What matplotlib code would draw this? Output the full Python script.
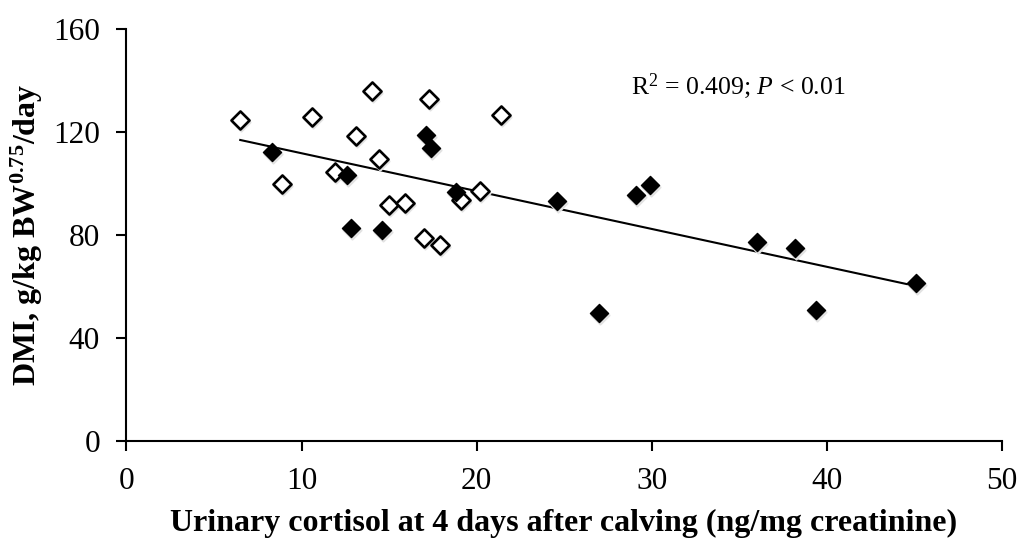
import matplotlib
matplotlib.use("Agg")
import matplotlib.pyplot as plt
import matplotlib.transforms as mtransforms
import numpy as np

# open diamonds
open_x = [6.5, 10.6, 14.0, 17.3, 21.4, 13.1, 14.4, 11.9, 8.9, 20.2, 19.1, 15.0, 15.9, 17.0, 17.9]
open_y = [124.6, 125.9, 135.9, 133.0, 126.7, 118.4, 109.6, 104.6, 99.8, 97.2, 93.7, 91.7, 92.6, 79.0, 76.0]

# filled diamonds
fill_x = [8.3, 12.6, 17.1, 17.4, 18.8, 12.8, 14.6, 24.6, 29.1, 29.9, 27.0, 36.0, 38.2, 39.4, 45.1]
fill_y = [112.4, 103.5, 119.0, 113.7, 96.8, 82.7, 82.1, 93.3, 95.7, 99.3, 49.8, 77.3, 75.1, 51.0, 61.3]

# trend line
slope = -1.47
intercept = 126.5

plt.rcParams["font.family"] = ["Liberation Serif", "DejaVu Serif"]
plt.rcParams["mathtext.fontset"] = "custom"
plt.rcParams["mathtext.rm"] = "Liberation Serif"
plt.rcParams["mathtext.it"] = "Liberation Serif:italic"
plt.rcParams["mathtext.bf"] = "Liberation Serif:bold"

fig = plt.figure(figsize=(10.2, 5.4), dpi=100)
ax = fig.add_axes([0.124, 0.1833, 0.858, 0.7627])

all_x = np.array(open_x + fill_x)
lx = np.array([all_x.min(), all_x.max()])
ax.plot(lx, intercept + slope * lx, color="black", linewidth=1.5, zorder=1)

# soft drop shadow under the markers
shadow = mtransforms.offset_copy(ax.transData, fig=fig, x=0.8, y=-1.5, units="points")
ax.scatter(open_x + fill_x, open_y + fill_y, marker="D", s=85, facecolor="#e2e2e2",
           edgecolor="#e2e2e2", linewidth=1.5, transform=shadow, zorder=2)

ax.scatter(open_x, open_y, marker="D", s=85, facecolor="white",
           edgecolor="black", linewidth=1.9, zorder=3)
ax.scatter(fill_x, fill_y, marker="D", s=85, facecolor="black",
           edgecolor="black", linewidth=1.0, zorder=3)

ax.set_xlim(0, 50)
ax.set_ylim(0, 160)
ax.set_xticks(np.arange(0, 51, 10))
ax.set_yticks(np.arange(0, 161, 40))
ax.tick_params(axis="both", direction="out", length=7, width=1.5, labelsize=22.5)
ax.tick_params(axis="x", pad=12)
ax.tick_params(axis="y", pad=12)
for side in ["top", "right"]:
    ax.spines[side].set_visible(False)
for side in ["left", "bottom"]:
    ax.spines[side].set_linewidth(1.5)

ax.set_xlabel("Urinary cortisol at 4 days after calving (ng/mg creatinine)",
              fontsize=23, fontweight="bold", labelpad=9)
ax.set_ylabel(r"DMI, g/kg BW$^{\mathbf{0.75}}$/day", fontsize=23,
              fontweight="bold", labelpad=6)

ax.text(28.8, 137.7, r"R$^2$ = 0.409; $P$ < 0.01", fontsize=18.5, ha="left", va="center")

fig.savefig("out.png", dpi=100)
